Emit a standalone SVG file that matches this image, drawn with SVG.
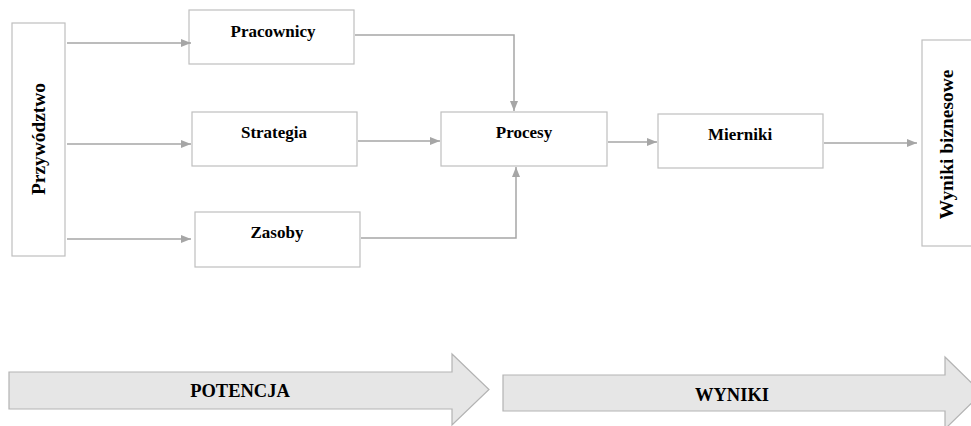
<svg xmlns="http://www.w3.org/2000/svg" width="971" height="426" viewBox="0 0 971 426">
<defs>
<marker id="ah" markerUnits="userSpaceOnUse" markerWidth="10" markerHeight="10" viewBox="0 0 10 10" refX="10" refY="5" orient="auto">
<path d="M0,1 L10,5 L0,9 Z" fill="#a6a6a6"/>
</marker>
</defs>
<style>
.box{fill:#fff;stroke:#bfbfbf;stroke-width:1.2}
.lbl{font-family:"Liberation Serif","Times New Roman",serif;font-weight:bold;font-size:17px;fill:#000;text-anchor:middle}
.big{font-size:18.5px}
.vert{font-size:19.4px}
.con{fill:none;stroke:#a6a6a6;stroke-width:1.5;marker-end:url(#ah)}
.band{fill:#e6e6e6;stroke:#b3b3b3;stroke-width:1.2}
</style>
<rect width="971" height="426" fill="#fff"/>
<g id="przywodztwo"><rect class="box" x="12" y="23" width="53" height="233"/><text class="lbl vert" transform="translate(45,139) rotate(-90)">Przywództwo</text></g>
<g id="pracownicy"><rect class="box" x="189" y="10" width="165" height="54"/><text class="lbl" x="273" y="37">Pracownicy</text></g>
<g id="strategia"><rect class="box" x="192" y="112" width="165" height="54"/><text class="lbl" x="274" y="138">Strategia</text></g>
<g id="zasoby"><rect class="box" x="195" y="212" width="165" height="55"/><text class="lbl" x="277" y="238">Zasoby</text></g>
<g id="procesy"><rect class="box" x="441" y="112" width="166" height="54"/><text class="lbl" x="524" y="138">Procesy</text></g>
<g id="mierniki"><rect class="box" x="658" y="114" width="165" height="54"/><text class="lbl" x="740" y="140">Mierniki</text></g>
<g id="wyniki-biznesowe"><rect class="box" x="922" y="40" width="60" height="206"/><text class="lbl vert" transform="translate(953,144.5) rotate(-90)">Wyniki biznesowe</text></g>
<g id="connectors">
<path class="con" d="M67,43 H191"/>
<path class="con" d="M67,144 H191"/>
<path class="con" d="M67,239 H191"/>
<path class="con" d="M355,35 H514 V111"/>
<path class="con" d="M358,141 H440"/>
<path class="con" d="M361,238 H516 V167"/>
<path class="con" d="M608,142 H657"/>
<path class="con" d="M824,143 H917"/>
</g>
<g id="potencja"><path class="band" d="M9,372 H452 V354 L489,389.5 L452,425 V409 H9 Z"/><text class="lbl big" x="240" y="397">POTENCJA</text></g>
<g id="wyniki"><path class="band" d="M503,375 H945 V357 L982,393 L945,429 V411 H503 Z"/><text class="lbl big" x="732" y="401">WYNIKI</text></g>
</svg>
